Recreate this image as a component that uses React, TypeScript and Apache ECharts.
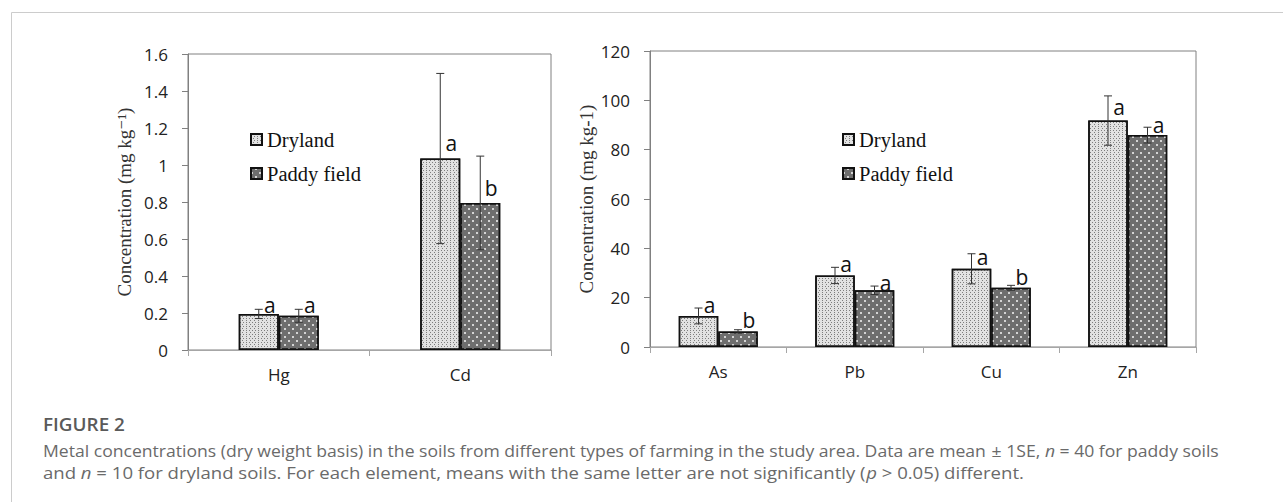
import React, { useEffect, useRef } from "react";
import * as echarts from "echarts";

// ---- data ----
const leftCategories = ["Hg", "Cd"];
const leftDryland = [0.195, 1.035];
const leftDrylandSE = [0.025, 0.46];
const leftPaddy = [0.185, 0.795];
const leftPaddySE = [0.035, 0.253];
const leftDrylandLetters = ["a", "a"];
const leftPaddyLetters = ["a", "b"];
const leftDrylandLetterAt = [0.243, 1.12];
const leftPaddyLetterAt = [0.243, 0.876];

const rightCategories = ["As", "Pb", "Cu", "Zn"];
const rightDryland = [12.6, 29.0, 31.7, 91.8];
const rightDrylandSE = [3.2, 3.3, 6.1, 10.0];
const rightPaddy = [6.3, 23.0, 24.0, 85.9];
const rightPaddySE = [0.7, 1.7, 1.0, 3.2];
const rightDrylandLetters = ["a", "a", "a", "a"];
const rightPaddyLetters = ["b", "a", "b", "a"];
const rightDrylandLetterAt = [17.0, 33.6, 36.5, 97.3];
const rightPaddyLetterAt = [10.9, 26.0, 28.4, 90.0];

const seriesNames = ["Dryland", "Paddy field"];

const captionTitle = "FIGURE 2";
const captionLine1 =
  "Metal concentrations (dry weight basis) in the soils from different types of farming in the study area. Data are mean {u|±} 1SE, {i|n} = 40 for paddy soils";
const captionLine2 =
  "and {i|n} = 10 for dryland soils. For each element, means with the same letter are not significantly ({i|p} > 0.05) different.";

// ---- styles ----
const SANS = '"Open Sans", "Noto Sans", sans-serif';
const SERIF = '"Liberation Serif", "DejaVu Serif", serif';
const FRAME = "#808080";

const drylandStyle = {
  color: "#e2e2e2",
  borderColor: "#111",
  borderWidth: 1.5,
  decal: {
    symbol: "rect",
    symbolSize: 1,
    dashArrayX: [
      [1, 2],
      [0, 1.5, 1, 0.5],
    ],
    dashArrayY: [1, 0.5],
    color: "rgba(60,60,60,0.6)",
  },
};
const paddyStyle = {
  color: "#6e6e6e",
  borderColor: "#111",
  borderWidth: 1.5,
  decal: {
    symbol: "rect",
    symbolSize: 1,
    dashArrayX: [
      [1.5, 5.5],
      [0, 3.5, 1.5, 2],
    ],
    dashArrayY: [1.5, 2],
    color: "rgba(255,255,255,0.7)",
  },
};

function barSeries(name: string, axis: number, data: number[], style: any, barW: number) {
  return {
    type: "bar",
    name,
    xAxisIndex: axis,
    yAxisIndex: axis,
    data,
    barWidth: barW,
    barGap: "0%",
    itemStyle: style,
    emphasis: { disabled: true },
    z: 2,
  };
}

function errSeries(
  axis: number,
  means: number[],
  ses: number[],
  letters: string[],
  letterAt: number[],
  side: number,
  barW: number
) {
  return {
    type: "custom",
    xAxisIndex: axis,
    yAxisIndex: axis,
    silent: true,
    z: 5,
    data: means.map((m, i) => [i, m, ses[i], letterAt[i]]),
    renderItem: (params: any, api: any) => {
      const cat = api.value(0);
      const mean = api.value(1);
      const se = api.value(2);
      const ly = api.value(3);
      const c = api.coord([cat, mean]);
      const x = c[0] + (side * barW) / 2;
      const top = api.coord([cat, mean + se])[1];
      const bot = api.coord([cat, mean - se])[1];
      const lyPx = api.coord([cat, ly])[1];
      const ls = { stroke: "#333", lineWidth: 1 };
      return {
        type: "group",
        children: [
          { type: "line", shape: { x1: x, y1: top, x2: x, y2: bot }, style: ls },
          { type: "line", shape: { x1: x - 4, y1: top, x2: x + 4, y2: top }, style: ls },
          { type: "line", shape: { x1: x - 4, y1: bot, x2: x + 4, y2: bot }, style: ls },
          {
            type: "text",
            x: x + 11,
            y: lyPx,
            style: {
              text: letters[params.dataIndex],
              fill: "#111",
              font: '21px "Open Sans"',
              align: "center",
              verticalAlign: "middle",
            },
          },
        ],
      };
    },
  };
}

function xAxisCfg(grid: number, data: string[]) {
  return {
    gridIndex: grid,
    type: "category",
    data,
    axisLine: { show: true, lineStyle: { color: "#a6a6a6", width: 1 } },
    axisTick: { show: true, length: 6, lineStyle: { color: "#a6a6a6" } },
    axisLabel: { color: "#222", fontFamily: SANS, fontSize: 17, margin: 16 },
    splitLine: { show: false },
  };
}

function yAxisCfg(grid: number, max: number, interval: number, name: string) {
  return {
    gridIndex: grid,
    type: "value",
    min: 0,
    max,
    interval,
    name,
    nameLocation: "middle",
    nameGap: 54,
    nameTextStyle: { fontFamily: SERIF, fontSize: 19, color: "#333" },
    axisLine: { show: true, lineStyle: { color: FRAME, width: 1 } },
    axisTick: { show: true, length: 6, lineStyle: { color: FRAME } },
    axisLabel: { color: "#222", fontFamily: SANS, fontSize: 17, margin: 20 },
    splitLine: { show: false },
  };
}

function legendCfg(left: number) {
  return {
    data: seriesNames,
    orient: "vertical",
    left,
    top: 124,
    icon: "rect",
    itemWidth: 11,
    itemHeight: 11,
    itemGap: 13,
    selectedMode: false,
    textStyle: { fontFamily: SERIF, fontSize: 20.5, color: "#111" },
  };
}

export default function App() {
  const ref = useRef<HTMLDivElement>(null);
  useEffect(() => {
    if (!ref.current) return;
    const chart = echarts.init(ref.current, null, { renderer: "svg" });
    const option: any = {
      animation: false,
      backgroundColor: "#fff",
      grid: [
        { left: 188, right: 1283 - 551, top: 54, bottom: 502 - 350, show: true, borderColor: FRAME, borderWidth: 1 },
        { left: 650, right: 1283 - 1196, top: 51, bottom: 502 - 347, show: true, borderColor: FRAME, borderWidth: 1 },
      ],
      xAxis: [xAxisCfg(0, leftCategories), xAxisCfg(1, rightCategories)],
      yAxis: [
        yAxisCfg(0, 1.6, 0.2, "Concentration (mg kg\u207B\u00B9)"),
        yAxisCfg(1, 120, 20, "Concentration (mg kg-1)"),
      ],
      legend: [legendCfg(245), legendCfg(837)],
      series: [
        barSeries(seriesNames[0], 0, leftDryland, drylandStyle, 40),
        barSeries(seriesNames[1], 0, leftPaddy, paddyStyle, 40),
        barSeries(seriesNames[0], 1, rightDryland, drylandStyle, 39.5),
        barSeries(seriesNames[1], 1, rightPaddy, paddyStyle, 39.5),
        errSeries(0, leftDryland, leftDrylandSE, leftDrylandLetters, leftDrylandLetterAt, -1, 40),
        errSeries(0, leftPaddy, leftPaddySE, leftPaddyLetters, leftPaddyLetterAt, 1, 40),
        errSeries(1, rightDryland, rightDrylandSE, rightDrylandLetters, rightDrylandLetterAt, -1, 39.5),
        errSeries(1, rightPaddy, rightPaddySE, rightPaddyLetters, rightPaddyLetterAt, 1, 39.5),
      ],
      graphic: [
        { type: "line", shape: { x1: 11.5, y1: 12.5, x2: 1283, y2: 12.5 }, style: { stroke: "#cccccc", lineWidth: 1 } },
        { type: "line", shape: { x1: 11.5, y1: 12.5, x2: 11.5, y2: 502 }, style: { stroke: "#cccccc", lineWidth: 1 } },
        {
          type: "text",
          x: 43,
          y: 415.5,
          scaleX: 1.08,
          style: { text: captionTitle, fill: "#5a5a5a", fontFamily: SANS, fontSize: 17.5, fontWeight: 600 },
        },
        {
          type: "text",
          x: 43,
          y: 443,
          scaleX: 1.1,
          style: {
            text: captionLine1,
            fill: "#6a6a6a",
            fontFamily: SANS,
            fontSize: 16,
            rich: {
              i: { fontStyle: "italic", fontFamily: SANS, fontSize: 16, fill: "#6a6a6a" },
              u: { fontFamily: SANS, fontSize: 16, fill: "#6a6a6a" },
            },
          },
        },
        {
          type: "text",
          x: 43,
          y: 465,
          scaleX: 1.16,
          style: {
            text: captionLine2,
            fill: "#6a6a6a",
            fontFamily: SANS,
            fontSize: 16,
            rich: {
              i: { fontStyle: "italic", fontFamily: SANS, fontSize: 16, fill: "#6a6a6a" },
            },
          },
        },
      ],
    };
    chart.setOption(option);
    return () => chart.dispose();
  }, []);
  return (
    <div
      ref={ref}
      style={{ position: "absolute", left: 0, top: 0, width: 1283, height: 502 }}
    />
  );
}
